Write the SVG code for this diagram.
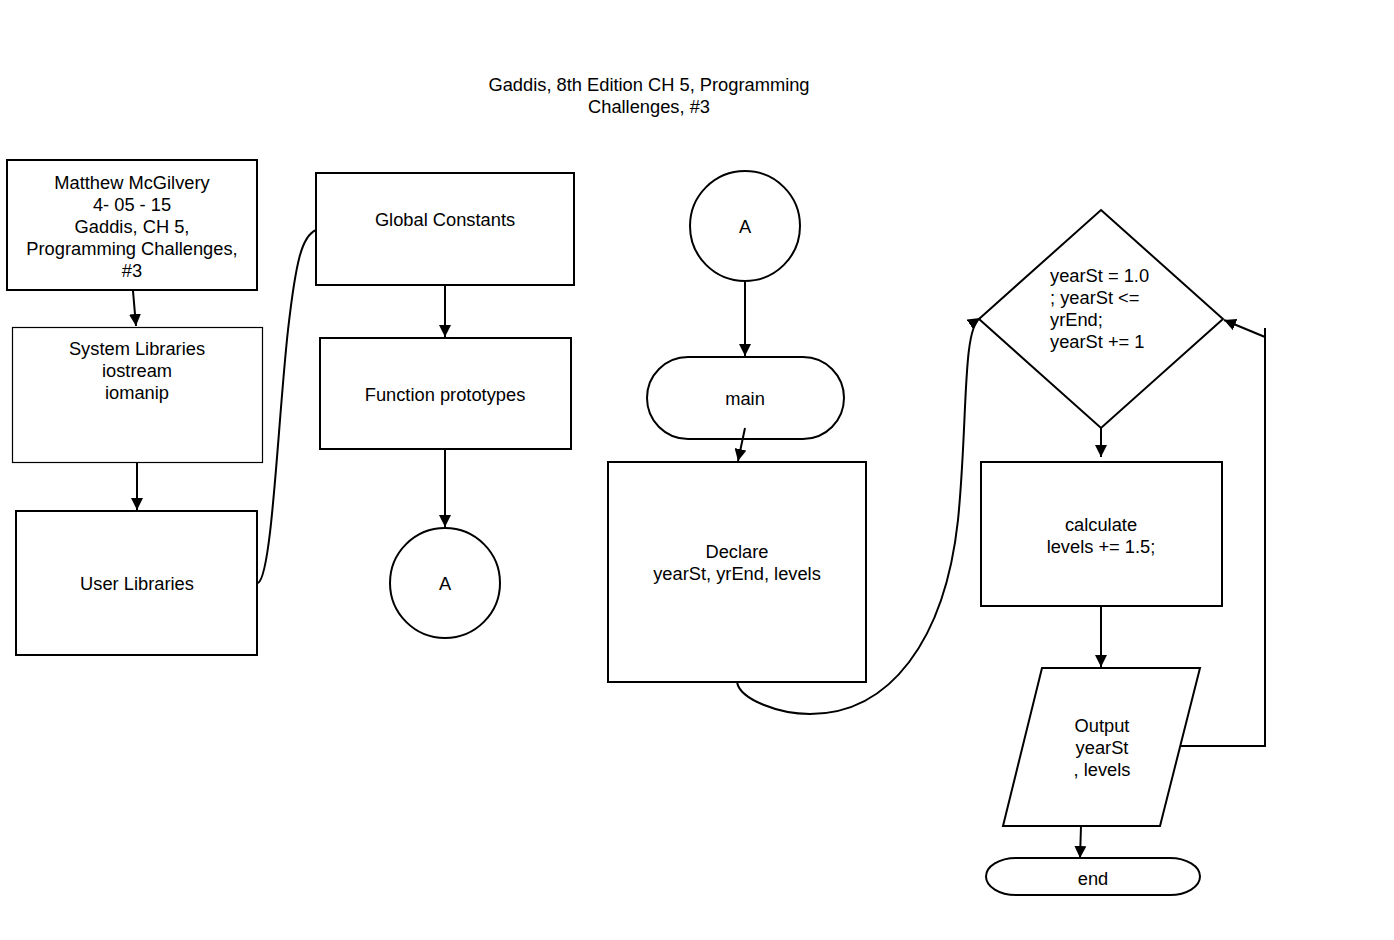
<svg xmlns="http://www.w3.org/2000/svg" width="1394" height="940" viewBox="0 0 1394 940">
  <style>
    .shape { fill: #fff; stroke: #000; stroke-width: 2; }
    .thin { stroke-width: 1.2; }
    .lbl { font-family: "Liberation Sans", Arial, sans-serif; font-size: 18.3px; fill: #000; text-anchor: middle; dominant-baseline: central; }
    .left { text-anchor: start; }
    .conn { fill: none; stroke: #000; stroke-width: 2; }
  </style>
  <defs>
    <marker id="arrow" viewBox="0 0 10 10" refX="10" refY="5" markerWidth="6" markerHeight="6" orient="auto" markerUnits="strokeWidth">
      <path d="M0,0 L10,5 L0,10 z" fill="#000"/>
    </marker>
  </defs>
  <rect width="1394" height="940" fill="#fff"/>

  <g id="title">
    <text class="lbl" x="649" y="84">Gaddis, 8th Edition CH 5, Programming</text>
    <text class="lbl" x="649" y="106">Challenges, #3</text>
  </g>

  <g id="header">
    <rect class="shape" x="7" y="160" width="250" height="130"/>
    <text class="lbl" x="132" y="182">Matthew McGilvery</text>
    <text class="lbl" x="132" y="204">4- 05 - 15</text>
    <text class="lbl" x="132" y="226">Gaddis, CH 5,</text>
    <text class="lbl" x="132" y="248">Programming Challenges,</text>
    <text class="lbl" x="132" y="270">#3</text>
  </g>

  <g id="system-libraries">
    <rect class="shape thin" x="12.5" y="327.5" width="250" height="135"/>
    <text class="lbl" x="137" y="348">System Libraries</text>
    <text class="lbl" x="137" y="370">iostream</text>
    <text class="lbl" x="137" y="392">iomanip</text>
  </g>

  <g id="user-libraries">
    <rect class="shape" x="16" y="511" width="241" height="144"/>
    <text class="lbl" x="137" y="583">User Libraries</text>
  </g>

  <g id="global-constants">
    <rect class="shape" x="316" y="173" width="258" height="112"/>
    <text class="lbl" x="445" y="219">Global Constants</text>
  </g>

  <g id="function-prototypes">
    <rect class="shape" x="320" y="338" width="251" height="111"/>
    <text class="lbl" x="445" y="394">Function prototypes</text>
  </g>

  <g id="connector-a-out">
    <circle class="shape" cx="445" cy="583" r="55"/>
    <text class="lbl" x="445" y="583">A</text>
  </g>

  <g id="connector-a-in">
    <circle class="shape" cx="745" cy="226" r="55"/>
    <text class="lbl" x="745" y="226">A</text>
  </g>

  <g id="main">
    <rect class="shape" x="647" y="357" width="197" height="82" rx="41" ry="41"/>
    <text class="lbl" x="745" y="398">main</text>
  </g>

  <g id="declare">
    <rect class="shape" x="608" y="462" width="258" height="220"/>
    <text class="lbl" x="737" y="551">Declare</text>
    <text class="lbl" x="737" y="573">yearSt, yrEnd, levels</text>
  </g>

  <g id="loop">
    <polygon class="shape" points="1101,210 1223,319 1101,428 979,319"/>
    <text class="lbl left" x="1050" y="275">yearSt = 1.0</text>
    <text class="lbl left" x="1050" y="297">; yearSt &lt;=</text>
    <text class="lbl left" x="1050" y="319">yrEnd;</text>
    <text class="lbl left" x="1050" y="341">yearSt += 1</text>
  </g>

  <g id="calculate">
    <rect class="shape" x="981" y="462" width="241" height="144"/>
    <text class="lbl" x="1101" y="524">calculate</text>
    <text class="lbl" x="1101" y="546">levels += 1.5;</text>
  </g>

  <g id="output">
    <polygon class="shape" points="1042,668 1200,668 1160,826 1003,826"/>
    <text class="lbl" x="1102" y="725">Output</text>
    <text class="lbl" x="1102" y="747">yearSt</text>
    <text class="lbl" x="1102" y="769">, levels</text>
  </g>

  <g id="end">
    <rect class="shape" x="986" y="858" width="214" height="37" rx="30" ry="18.5"/>
    <text class="lbl" x="1093" y="878">end</text>
  </g>

  <g id="connectors">
    <line class="conn" x1="133" y1="291" x2="136" y2="326" marker-end="url(#arrow)"/>
    <line class="conn" x1="137" y1="462" x2="137" y2="510" marker-end="url(#arrow)"/>
    <path class="conn" stroke-width="1.5" d="M258,583 C272,576 278,420 288,330 C296,260 302,236 316,230"/>
    <line class="conn" x1="445" y1="285" x2="445" y2="337" marker-end="url(#arrow)"/>
    <line class="conn" x1="445" y1="449" x2="445" y2="527" marker-end="url(#arrow)"/>
    <line class="conn" x1="745" y1="281" x2="745" y2="356" marker-end="url(#arrow)"/>
    <line class="conn" x1="745" y1="428" x2="738" y2="461" marker-end="url(#arrow)"/>
    <path class="conn" d="M737,682 C740,700 780,714 810,714 C890,714 945,640 958,520 C968,420 962,330 980,318" marker-end="url(#arrow)"/>
    <line class="conn" x1="1101" y1="428" x2="1101" y2="457" marker-end="url(#arrow)"/>
    <line class="conn" x1="1101" y1="606" x2="1101" y2="667" marker-end="url(#arrow)"/>
    <polyline class="conn" points="1181,746 1265,746 1265,328"/>
    <line class="conn" x1="1265" y1="337" x2="1224" y2="320" marker-end="url(#arrow)"/>
    <line class="conn" x1="1081" y1="826" x2="1080" y2="858" marker-end="url(#arrow)"/>
  </g>
</svg>
